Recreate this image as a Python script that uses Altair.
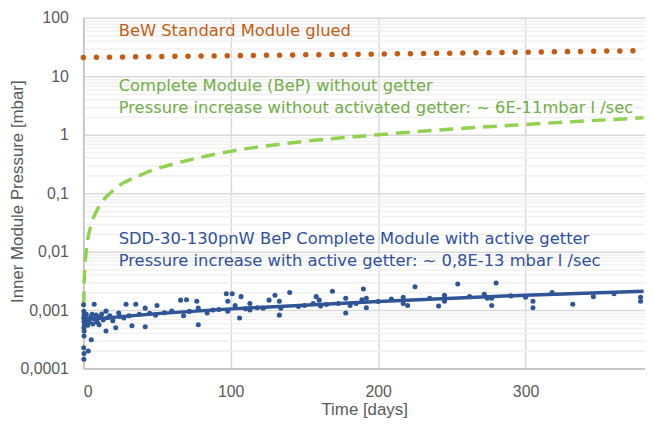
import altair as alt
import pandas as pd

# ---- data ----
orange_days = [0, 50, 100, 150, 200, 250, 300, 350, 380]
orange_mbar = [21, 21.8, 22.5, 23.3, 24.0, 24.9, 25.9, 26.9, 27.5]

green_days = [0.3, 0.6, 1.2, 2.5, 5, 10, 20, 40, 70, 100, 150, 200, 250, 300, 380]
green_mbar = [0.0012, 0.003, 0.006, 0.013, 0.027, 0.055, 0.11, 0.21, 0.36, 0.52, 0.77, 1.0, 1.25, 1.5, 1.95]

trend_days = [0, 50, 100, 200, 300, 380]
trend_mbar = [0.00068, 0.00087, 0.00105, 0.0014, 0.0018, 0.0021]

blue_days = [0.2, 0.4, 0.6, 0.3, 0.5, 0.7, 0.4, 0.6, 0.5, 0.3, 0.5, 0.4,
             1.0, 1.2, 1.5, 2.0, 2.5, 3.4, 3.0, 4.0, 5.0, 5.4, 6.0, 6.5, 7.4, 8.0, 8.7, 9.5,
             10.7, 11.5, 12.5, 13.5, 15.4, 15.4, 16.5, 18, 20, 22, 24, 25, 27.5, 29, 31, 33,
             35.6, 38, 42, 42, 45, 49, 50, 55, 60,
             66, 68, 70, 72, 77, 78, 78, 84, 88, 92, 97, 98, 98, 101, 103, 106, 107, 110,
             113, 113, 118, 122, 126, 130, 133, 133, 134, 140, 146, 150, 156, 158, 160, 161,
             165, 169, 173, 178, 178, 181, 185, 189, 190, 192, 192,
             200, 209, 217, 217, 220, 225, 235, 241, 245, 245, 254, 262, 272, 274, 277, 277,
             280, 290, 300, 305, 305, 318, 332, 346, 360, 378, 378]
blue_mbar = [1.23e-3, 0.95e-3, 0.83e-3, 0.73e-3, 0.64e-3, 0.56e-3, 0.50e-3, 0.44e-3, 0.36e-3, 0.227e-3, 0.18e-3, 0.144e-3,
             0.78e-3, 0.68e-3, 0.60e-3, 0.85e-3, 0.70e-3, 0.20e-3, 0.55e-3, 0.62e-3, 0.75e-3, 0.31e-3, 0.85e-3, 0.58e-3, 1.26e-3, 0.70e-3, 0.82e-3, 0.62e-3,
             0.56e-3, 0.78e-3, 0.86e-3, 0.68e-3, 0.96e-3, 0.44e-3, 0.74e-3, 0.80e-3, 0.66e-3, 0.50e-3, 0.89e-3, 0.78e-3, 0.73e-3, 1.26e-3, 0.80e-3, 0.54e-3,
             1.26e-3, 0.85e-3, 1.08e-3, 0.52e-3, 0.88e-3, 0.82e-3, 1.2e-3, 0.90e-3, 0.96e-3,
             1.48e-3, 0.80e-3, 1.5e-3, 0.95e-3, 1.42e-3, 0.56e-3, 1.08e-3, 0.89e-3, 1.0e-3, 1.02e-3, 1.9e-3, 1.42e-3, 0.96e-3, 1.9e-3, 1.2e-3, 0.73e-3, 1.7e-3, 1.05e-3,
             1.3e-3, 1.0e-3, 1.1e-3, 1.08e-3, 1.48e-3, 1.8e-3, 1.42e-3, 0.82e-3, 1.08e-3, 2.0e-3, 1.15e-3, 1.2e-3, 1.3e-3, 1.7e-3, 1.48e-3, 1.17e-3,
             1.25e-3, 2.1e-3, 1.3e-3, 1.6e-3, 0.89e-3, 1.2e-3, 1.3e-3, 1.5e-3, 2.3e-3, 1.6e-3, 1.1e-3,
             1.4e-3, 1.54e-3, 1.66e-3, 1.3e-3, 1.2e-3, 2.5e-3, 1.6e-3, 1.17e-3, 1.8e-3, 1.42e-3, 2.8e-3, 1.7e-3, 1.87e-3, 1.6e-3, 1.6e-3, 1.2e-3,
             2.9e-3, 1.75e-3, 1.66e-3, 1.42e-3, 1.1e-3, 2.0e-3, 1.26e-3, 1.7e-3, 1.9e-3, 1.66e-3, 1.42e-3]

note_text = ["BeW Standard Module glued",
             "Complete Module (BeP) without getter",
             "Pressure increase without activated getter: ~ 6E-11mbar l /sec",
             "SDD-30-130pnW BeP Complete Module with active getter",
             "Pressure increase with active getter: ~ 0,8E-13 mbar l /sec"]
note_days = [24, 24, 24, 24, 24]
note_mbar = [60, 6.8, 2.87, 0.0166, 0.0070]
note_color = ["#C55A11", "#70AD47", "#70AD47", "#2F4FA0", "#2F4FA0"]

x_ticks = [0, 100, 200, 300]
decades = [0.0001, 0.001, 0.01, 0.1, 1, 10, 100]
decade_labels = ["0,0001", "0,001", "0,01", "0,1", "1", "10", "100"]

# ---- build ----
FONT = "DejaVu Sans"
AXFONT = "Liberation Sans"
y_values = []
for d in range(-4, 2):
    for m in range(1, 10):
        y_values.append(float(f"{m}e{d}"))
y_values.append(100.0)

label_expr = ""
for v, lab in zip(decades, decade_labels):
    label_expr += f"datum.value == {v} ? '{lab}' : "
label_expr += "''"
major_test = " || ".join(f"datum.value == {v}" for v in decades)

xscale = alt.Scale(domain=[0, 381], nice=False, zero=False)
yscale = alt.Scale(type="log", domain=[0.0001, 100], nice=False)

xaxis = alt.Axis(values=x_ticks, title="Time [days]", grid=True, gridColor="#D9D9D9", gridWidth=1.5,
                 ticks=False, domainColor="#BFBFBF", domainWidth=1.5, labelPadding=15,
                 labelFont=AXFONT, labelFontSize=16, labelColor="#595959",
                 titleFont=AXFONT, titleFontSize=17, titleColor="#595959", titleFontWeight="normal",
                 titleY=41, titleBaseline="middle")
yaxis = alt.Axis(values=y_values, labelExpr=label_expr, title="Inner Module Pressure [mbar]",
                 grid=True, gridWidth=1.5,
                 gridColor={"condition": {"test": major_test, "value": "#D9D9D9"}, "value": "#F0F0F0"},
                 ticks=False, domainColor="#BFBFBF", domainWidth=1.5, labelPadding=15, labelOverlap=False,
                 labelFont=AXFONT, labelFontSize=16, labelColor="#595959",
                 titleFont=AXFONT, titleFontSize=17, titleColor="#595959", titleFontWeight="normal",
                 titleX=-66, titleY=175, titleAngle=-90, titleAlign="center", titleBaseline="middle")

orange_df = pd.DataFrame({"t": orange_days, "p": orange_mbar})
green_df = pd.DataFrame({"t": green_days, "p": green_mbar})
trend_df = pd.DataFrame({"t": trend_days, "p": trend_mbar})
blue_df = pd.DataFrame({"t": blue_days, "p": blue_mbar})
note_df = pd.DataFrame({"label": note_text, "t": note_days, "p": note_mbar, "c": note_color})

base_x = alt.X("t:Q", scale=xscale, axis=xaxis)
base_y = alt.Y("p:Q", scale=yscale, axis=yaxis)

orange = alt.Chart(orange_df).mark_line(color="#C55A11", strokeWidth=5.5, strokeCap="round",
                                        strokeDash=[0.01, 13.2]).encode(x=base_x, y=base_y)
green = alt.Chart(green_df).mark_line(color="#92D050", strokeWidth=3.5, strokeDash=[14, 8],
                                      interpolate="monotone").encode(x="t:Q", y="p:Q")
blue_pts = alt.Chart(blue_df).mark_circle(color="#2F5597", size=26, opacity=1).encode(x="t:Q", y="p:Q")
trend = alt.Chart(trend_df).mark_line(color="#2F5597", strokeWidth=3.5).encode(x="t:Q", y="p:Q")
notes = alt.Chart(note_df).mark_text(align="left", baseline="middle", font=FONT, fontSize=16.5).encode(
    x="t:Q", y="p:Q", text="label:N", color=alt.Color("c:N", scale=None))

chart = alt.layer(orange, green, blue_pts, trend, notes).properties(
    width=567, height=354,
    autosize=alt.AutoSizeParams(type="none"),
    padding={"left": 76, "top": 8, "right": 0, "bottom": 50},
).configure_view(stroke=None).configure(background="white")

chart.save("out.html", embed_options={"renderer": "svg", "actions": False})
